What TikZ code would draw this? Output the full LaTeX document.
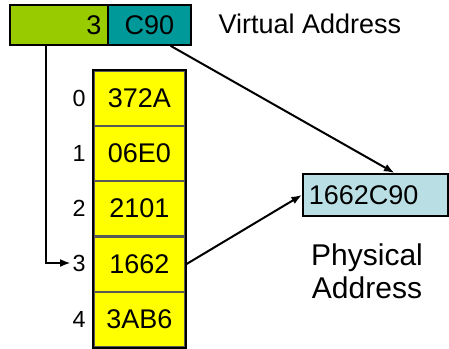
\documentclass[tikz,border=0pt]{standalone}
\usepackage{fontspec}
\setmainfont{Liberation Sans}
\usetikzlibrary{arrows.meta,calc}

\definecolor{vpngreen}{RGB}{153,204,0}
\definecolor{offteal}{RGB}{0,153,153}
\definecolor{pteyellow}{RGB}{255,255,0}
\definecolor{physcyan}{RGB}{185,223,228}

\tikzset{every picture/.style={line width=0.75pt}}

\begin{document}
\begin{tikzpicture}[x=0.75pt,y=0.75pt,yscale=-1,xscale=1,
  bigtxt/.style={font=\fontsize{20.25}{26}\selectfont},
  idxtxt/.style={font=\fontsize{17.5}{20}\selectfont, inner sep=1pt},
  ptecell/.style={bigtxt, draw=black!65, fill=pteyellow, line width=1.4pt, anchor=north west,
    minimum width=68.25pt, minimum height=41.25pt, inner sep=0pt},
  conn/.style={line width=1.5pt, -{Latex[length=8pt,width=6pt]}}]
\useasboundingbox (0,0) rectangle (449,349);

% virtual address: page number + offset
\node (vpn) [bigtxt, draw, fill=vpngreen, line width=1.4pt, anchor=north west, minimum height=30pt,
  inner xsep=5pt, inner ysep=0pt, text width=63.5pt, align=right] at (9,4) {3};
\node (off) [bigtxt, draw, fill=offteal, line width=1.4pt, anchor=north west, minimum width=62.25pt,
  minimum height=30pt, inner sep=0pt] at (107,4) {C90};
\node (vlbl) [bigtxt, anchor=west, inner sep=0pt] at (218,24) {Virtual Address};

% page table
\node (r0) [ptecell] at (93,70) {372A};
\node (r1) [ptecell] at (93,125) {06E0};
\node (r2) [ptecell] at (93,180) {2101};
\node (r3) [ptecell] at (93,236) {1662};
\node (r4) [ptecell] at (93,291) {3AB6};
\draw [line width=1.4pt] (r0.north west) rectangle (r4.south east);

\node (i0) [idxtxt] at (79,98) {0};
\node (i1) [idxtxt] at (79,153) {1};
\node (i2) [idxtxt] at (79,208) {2};
\node (i3) [idxtxt] at (79,263) {3};
\node (i4) [idxtxt] at (79,319) {4};

% physical address
\node (phys) [bigtxt, draw, fill=physcyan, line width=1.4pt, anchor=north west, minimum height=31.5pt,
  inner xsep=4.5pt, inner ysep=0pt, text width=99.75pt, align=left] at (302,173) {1662C90};
\node (plbl) [font=\fontsize{22.5}{24.75}\selectfont, align=center, inner sep=0pt] at (367,271) {Physical\\Address};

% connectors
\draw [conn] ($(vpn.south west)!0.37!(vpn.south east)$) |- (i3.west);
\draw [conn] ($(off.south)!0.5!(off.south east)$) -- ($(phys.north)!0.26!(phys.north east)$);
\draw [conn] (r3.east) -- (phys.west);

\end{tikzpicture}
\end{document}
